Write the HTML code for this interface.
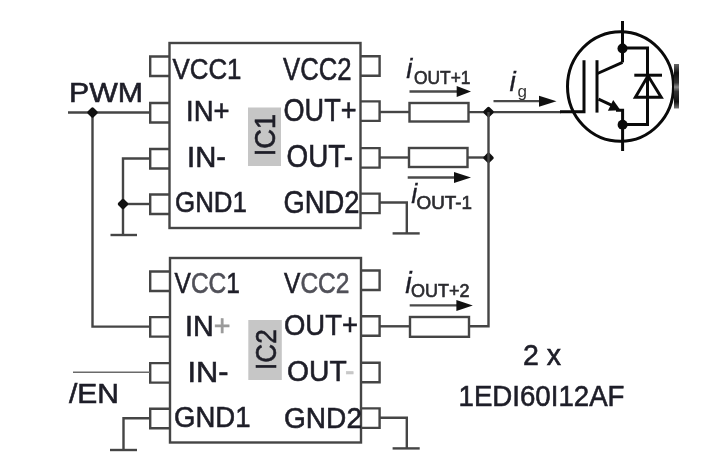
<!DOCTYPE html>
<html><head><meta charset="utf-8"><style>
html,body{margin:0;padding:0;background:#fff;width:722px;height:465px;overflow:hidden}
svg{display:block;filter:blur(0.45px)}
text{font-family:"Liberation Sans",sans-serif}
</style></head><body>
<svg width="722" height="465" viewBox="0 0 722 465">
<rect x="169.5" y="43" width="191.0" height="185" fill="none" stroke="#454545" stroke-width="2.4"/>
<polyline points="169.5,56.5 150.2,56.5 150.2,76 169.5,76" fill="none" stroke="#454545" stroke-width="2.4" stroke-linejoin="miter"/>
<polyline points="169.5,103.0 150.2,103.0 150.2,122.5 169.5,122.5" fill="none" stroke="#454545" stroke-width="2.4" stroke-linejoin="miter"/>
<polyline points="169.5,149.0 150.2,149.0 150.2,168.5 169.5,168.5" fill="none" stroke="#454545" stroke-width="2.4" stroke-linejoin="miter"/>
<polyline points="169.5,194.5 150.2,194.5 150.2,214 169.5,214" fill="none" stroke="#454545" stroke-width="2.4" stroke-linejoin="miter"/>
<polyline points="360.5,56.199999999999996 379.6,56.199999999999996 379.6,75.7 360.5,75.7" fill="none" stroke="#454545" stroke-width="2.4" stroke-linejoin="miter"/>
<polyline points="360.5,101.4 379.6,101.4 379.6,120.9 360.5,120.9" fill="none" stroke="#454545" stroke-width="2.4" stroke-linejoin="miter"/>
<polyline points="360.5,148.1 379.6,148.1 379.6,167.6 360.5,167.6" fill="none" stroke="#454545" stroke-width="2.4" stroke-linejoin="miter"/>
<polyline points="360.5,193.6 379.6,193.6 379.6,213.1 360.5,213.1" fill="none" stroke="#454545" stroke-width="2.4" stroke-linejoin="miter"/>
<text x="172.50" y="79.3" font-size="29.5" textLength="69.00" lengthAdjust="spacingAndGlyphs" fill="#1e1e28" stroke="#1e1e28" stroke-width="0.6" >VCC1</text>
<text x="186.00" y="121.4" font-size="29.5" textLength="43.50" lengthAdjust="spacingAndGlyphs" fill="#1e1e28" stroke="#1e1e28" stroke-width="0.6" >IN+</text>
<text x="187.00" y="166.9" font-size="29.5" textLength="39.00" lengthAdjust="spacingAndGlyphs" fill="#1e1e28" stroke="#1e1e28" stroke-width="0.6" >IN-</text>
<text x="175.00" y="212.4" font-size="29.5" textLength="72.00" lengthAdjust="spacingAndGlyphs" fill="#1e1e28" stroke="#1e1e28" stroke-width="0.6" >GND1</text>
<text x="283.00" y="79.9" font-size="30.5" textLength="68.50" lengthAdjust="spacingAndGlyphs" fill="#1e1e28" stroke="#1e1e28" stroke-width="0.6" >VCC2</text>
<text x="283.50" y="120.6" font-size="30.5" textLength="73.00" lengthAdjust="spacingAndGlyphs" fill="#1e1e28" stroke="#1e1e28" stroke-width="0.6" >OUT+</text>
<text x="286.50" y="166.8" font-size="30.5" textLength="66.50" lengthAdjust="spacingAndGlyphs" fill="#1e1e28" stroke="#1e1e28" stroke-width="0.6" >OUT-</text>
<text x="283.50" y="213.2" font-size="30.5" textLength="76.00" lengthAdjust="spacingAndGlyphs" fill="#1e1e28" stroke="#1e1e28" stroke-width="0.6" >GND2</text>
<rect x="248" y="107.5" width="33" height="58.5" fill="#c6c6c6"/>
<text x="0" y="0" font-size="30" textLength="42.5" lengthAdjust="spacingAndGlyphs" fill="#1e1e28" stroke="#1e1e28" stroke-width="0.6" transform="translate(275.3,156.3) rotate(-90)">IC1</text>
<rect x="170" y="258" width="191" height="184.5" fill="none" stroke="#454545" stroke-width="2.4"/>
<polyline points="170,271.5 150.2,271.5 150.2,291 170,291" fill="none" stroke="#454545" stroke-width="2.4" stroke-linejoin="miter"/>
<polyline points="170,317.1 150.2,317.1 150.2,336.6 170,336.6" fill="none" stroke="#454545" stroke-width="2.4" stroke-linejoin="miter"/>
<polyline points="170,363.1 150.2,363.1 150.2,382.6 170,382.6" fill="none" stroke="#454545" stroke-width="2.4" stroke-linejoin="miter"/>
<polyline points="170,408.8 150.2,408.8 150.2,428.3 170,428.3" fill="none" stroke="#454545" stroke-width="2.4" stroke-linejoin="miter"/>
<polyline points="361,270.5 379.6,270.5 379.6,290.0 361,290.0" fill="none" stroke="#454545" stroke-width="2.4" stroke-linejoin="miter"/>
<polyline points="361,316.29999999999995 379.6,316.29999999999995 379.6,335.79999999999995 361,335.79999999999995" fill="none" stroke="#454545" stroke-width="2.4" stroke-linejoin="miter"/>
<polyline points="361,362.7 379.6,362.7 379.6,382.2 361,382.2" fill="none" stroke="#454545" stroke-width="2.4" stroke-linejoin="miter"/>
<polyline points="361,408.4 379.6,408.4 379.6,427.9 361,427.9" fill="none" stroke="#454545" stroke-width="2.4" stroke-linejoin="miter"/>
<text x="174.50" y="292.5" font-size="29.5" textLength="65.50" lengthAdjust="spacingAndGlyphs" fill="#1e1e28" stroke="#1e1e28" stroke-width="0.6" >V<tspan fill='#505058' stroke='#505058'>CC</tspan>1</text>
<text x="185.00" y="336.4" font-size="29.5" textLength="45.50" lengthAdjust="spacingAndGlyphs" fill="#1e1e28" stroke="#1e1e28" stroke-width="0.6" >IN<tspan fill='#9a9a9a' stroke='#9a9a9a'>+</tspan></text>
<text x="187.50" y="381.9" font-size="29.5" textLength="41.00" lengthAdjust="spacingAndGlyphs" fill="#1e1e28" stroke="#1e1e28" stroke-width="0.6" >IN-</text>
<text x="174.00" y="427.4" font-size="29.5" textLength="76.50" lengthAdjust="spacingAndGlyphs" fill="#1e1e28" stroke="#1e1e28" stroke-width="0.6" >GND1</text>
<text x="284.00" y="293" font-size="29.5" textLength="65.50" lengthAdjust="spacingAndGlyphs" fill="#1e1e28" stroke="#1e1e28" stroke-width="0.6" >V<tspan fill='#505058' stroke='#505058'>CC2</tspan></text>
<text x="284.00" y="335" font-size="29.5" textLength="74.00" lengthAdjust="spacingAndGlyphs" fill="#1e1e28" stroke="#1e1e28" stroke-width="0.6" >OUT+</text>
<text x="287.00" y="380.8" font-size="29.5" textLength="67.50" lengthAdjust="spacingAndGlyphs" fill="#1e1e28" stroke="#1e1e28" stroke-width="0.6" >OUT<tspan fill='#c8c8c8' stroke='#c8c8c8'>-</tspan></text>
<text x="284.00" y="427.7" font-size="29.5" textLength="78.00" lengthAdjust="spacingAndGlyphs" fill="#1e1e28" stroke="#1e1e28" stroke-width="0.6" >GND2</text>
<rect x="248.3" y="320" width="33.5" height="60" fill="#c6c6c6"/>
<text x="0" y="0" font-size="30" textLength="40.60000000000002" lengthAdjust="spacingAndGlyphs" fill="#1e1e28" stroke="#1e1e28" stroke-width="0.6" transform="translate(275.5,369.90000000000003) rotate(-90)">IC2</text>
<text x="69.00" y="102" font-size="28" textLength="74.00" lengthAdjust="spacingAndGlyphs" fill="#1e1e28" stroke="#1e1e28" stroke-width="0.6" >PWM</text>
<line x1="68" y1="112.5" x2="150" y2="112.5" stroke="#454545" stroke-width="2.4"/>
<polyline points="92.5,112.5 92.5,326.6 150,326.6" fill="none" stroke="#454545" stroke-width="2.4" stroke-linejoin="miter"/>
<rect x="-4.15" y="-4.15" width="8.3" height="8.3" rx="1.6" fill="#111" transform="translate(92.5,112.5) rotate(45)"/>
<polyline points="150,158.5 123,158.5 123,235" fill="none" stroke="#454545" stroke-width="2.4" stroke-linejoin="miter"/>
<line x1="123" y1="204" x2="150" y2="204" stroke="#454545" stroke-width="2.4"/>
<rect x="-4.15" y="-4.15" width="8.3" height="8.3" rx="1.6" fill="#111" transform="translate(123,204) rotate(45)"/>
<line x1="110.5" y1="235" x2="137" y2="235" stroke="#454545" stroke-width="2.4"/>
<polyline points="150,418.3 123.5,418.3 123.5,450" fill="none" stroke="#454545" stroke-width="2.4" stroke-linejoin="miter"/>
<line x1="110" y1="450" x2="137" y2="450" stroke="#454545" stroke-width="2.4"/>
<line x1="73" y1="372.3" x2="150" y2="372.3" stroke="#6a6a6a" stroke-width="1.6"/>
<text x="69.00" y="403.2" font-size="28" textLength="50.00" lengthAdjust="spacingAndGlyphs" fill="#1e1e28" stroke="#1e1e28" stroke-width="0.6" >/EN</text>
<line x1="379.5" y1="112" x2="409.5" y2="112" stroke="#454545" stroke-width="2.4"/>
<rect x="409.5" y="103" width="59" height="18.5" fill="none" stroke="#454545" stroke-width="2.4"/>
<line x1="468.5" y1="112.1" x2="561" y2="112.1" stroke="#454545" stroke-width="2.4"/>
<line x1="379.5" y1="157.5" x2="409" y2="157.5" stroke="#454545" stroke-width="2.4"/>
<rect x="409" y="148" width="58.5" height="19" fill="none" stroke="#454545" stroke-width="2.4"/>
<line x1="467.5" y1="157.5" x2="488.5" y2="157.5" stroke="#454545" stroke-width="2.4"/>
<rect x="-4.15" y="-4.15" width="8.3" height="8.3" rx="1.6" fill="#111" transform="translate(488.5,112) rotate(45)"/>
<rect x="-4.15" y="-4.15" width="8.3" height="8.3" rx="1.6" fill="#111" transform="translate(488.5,157.8) rotate(45)"/>
<polyline points="488.5,112.1 488.5,326.3 469,326.3" fill="none" stroke="#454545" stroke-width="2.4" stroke-linejoin="miter"/>
<line x1="379.5" y1="326.3" x2="410" y2="326.3" stroke="#454545" stroke-width="2.4"/>
<rect x="410" y="317" width="59" height="19.8" fill="none" stroke="#454545" stroke-width="2.4"/>
<polyline points="379.5,202.5 406.8,202.5 406.8,233.4" fill="none" stroke="#454545" stroke-width="2.4" stroke-linejoin="miter"/>
<line x1="392.6" y1="233.4" x2="419.7" y2="233.4" stroke="#454545" stroke-width="2.4"/>
<polyline points="380,417.8 406.8,417.8 406.8,448.4" fill="none" stroke="#454545" stroke-width="2.4" stroke-linejoin="miter"/>
<line x1="392.6" y1="448.4" x2="419.7" y2="448.4" stroke="#454545" stroke-width="2.4"/>
<line x1="409.5" y1="91.5" x2="457.7" y2="91.5" stroke="#4a4a4a" stroke-width="2.3"/>
<polygon points="456.7,86.0 471,91.5 456.7,97.0" fill="#111"/>
<line x1="493.5" y1="101.2" x2="540" y2="101.2" stroke="#4a4a4a" stroke-width="2.3"/>
<polygon points="539,95.7 556.5,101.2 539,106.7" fill="#111"/>
<line x1="407.7" y1="177.5" x2="455" y2="177.5" stroke="#4a4a4a" stroke-width="2.3"/>
<polygon points="454,172.0 471,177.5 454,183.0" fill="#111"/>
<line x1="409.7" y1="305.4" x2="457.4" y2="305.4" stroke="#4a4a4a" stroke-width="2.3"/>
<polygon points="456.4,299.9 472.8,305.4 456.4,310.9" fill="#111"/>
<text x="406.3" y="77.6" font-size="27.5" font-style="italic" fill="#1e1e28" stroke="#1e1e28" stroke-width="0.3">i</text>
<text x="414.00" y="83.6" font-size="17.5" textLength="56.50" lengthAdjust="spacingAndGlyphs" fill="#2c2c30" stroke="#2c2c30" stroke-width="0.6" >OUT+1</text>
<text x="411.3" y="203" font-size="27" font-style="italic" fill="#1e1e28" stroke="#1e1e28" stroke-width="0.3">i</text>
<text x="416.50" y="209.1" font-size="17.5" textLength="55.50" lengthAdjust="spacingAndGlyphs" fill="#2c2c30" stroke="#2c2c30" stroke-width="0.6" >OUT-1</text>
<text x="405.2" y="292.9" font-size="29" font-style="italic" fill="#1e1e28" stroke="#1e1e28" stroke-width="0.3">i</text>
<text x="411.00" y="296.6" font-size="17.5" textLength="58.50" lengthAdjust="spacingAndGlyphs" fill="#2c2c30" stroke="#2c2c30" stroke-width="0.6" >OUT+2</text>
<text x="509.5" y="91" font-size="28" font-style="italic" fill="#1e1e28" stroke="#1e1e28" stroke-width="0.3">i</text>
<text x="517.5" y="97" font-size="17" fill="#333">g</text>
<ellipse cx="620.5" cy="86.5" rx="53" ry="54.8" fill="none" stroke="#0a0a0a" stroke-width="3"/>
<line x1="622.5" y1="21" x2="622.5" y2="62.4" stroke="#0a0a0a" stroke-width="3"/>
<polyline points="622.5,62.4 597.5,73.5" fill="none" stroke="#0a0a0a" stroke-width="3" stroke-linejoin="miter"/>
<circle cx="622.5" cy="48.5" r="5" fill="#0a0a0a"/>
<polyline points="560,111.7 584,111.7 584,60.2" fill="none" stroke="#0a0a0a" stroke-width="3" stroke-linejoin="miter"/>
<line x1="597" y1="60.2" x2="597" y2="112.6" stroke="#0a0a0a" stroke-width="3"/>
<line x1="598.5" y1="99.2" x2="613" y2="105.8" stroke="#0a0a0a" stroke-width="3"/>
<polygon points="613.2,100 607.9,110.8 620.5,110.3" fill="#0a0a0a"/>
<polyline points="616,110.3 622.6,110.3 622.6,151" fill="none" stroke="#0a0a0a" stroke-width="3" stroke-linejoin="miter"/>
<circle cx="622.6" cy="124.8" r="5" fill="#0a0a0a"/>
<polyline points="622.5,48 647.5,48 647.5,124.5 622.5,124.5" fill="none" stroke="#0a0a0a" stroke-width="3" stroke-linejoin="miter"/>
<line x1="634.3" y1="75.2" x2="662" y2="75.2" stroke="#0a0a0a" stroke-width="3"/>
<polygon points="635.4,97.3 661.2,97.3 648,75.8" fill="none" stroke="#0a0a0a" stroke-width="3"/>
<defs><linearGradient id="bg" x1="0" y1="0" x2="0" y2="1"><stop offset="0" stop-color="#666"/><stop offset="0.2" stop-color="#111"/><stop offset="0.42" stop-color="#333"/><stop offset="0.52" stop-color="#888"/><stop offset="0.62" stop-color="#333"/><stop offset="0.85" stop-color="#111"/><stop offset="1" stop-color="#777"/></linearGradient></defs>
<rect x="674" y="64" width="5" height="44.5" fill="url(#bg)"/>
<text x="523.00" y="364.5" font-size="29" textLength="38.00" lengthAdjust="spacingAndGlyphs" fill="#1e1e28" stroke="#1e1e28" stroke-width="0.6" >2 x</text>
<text x="458.50" y="405.5" font-size="29" textLength="166.00" lengthAdjust="spacingAndGlyphs" fill="#1e1e28" stroke="#1e1e28" stroke-width="0.6" >1EDI60I12AF</text>
</svg>
</body></html>
